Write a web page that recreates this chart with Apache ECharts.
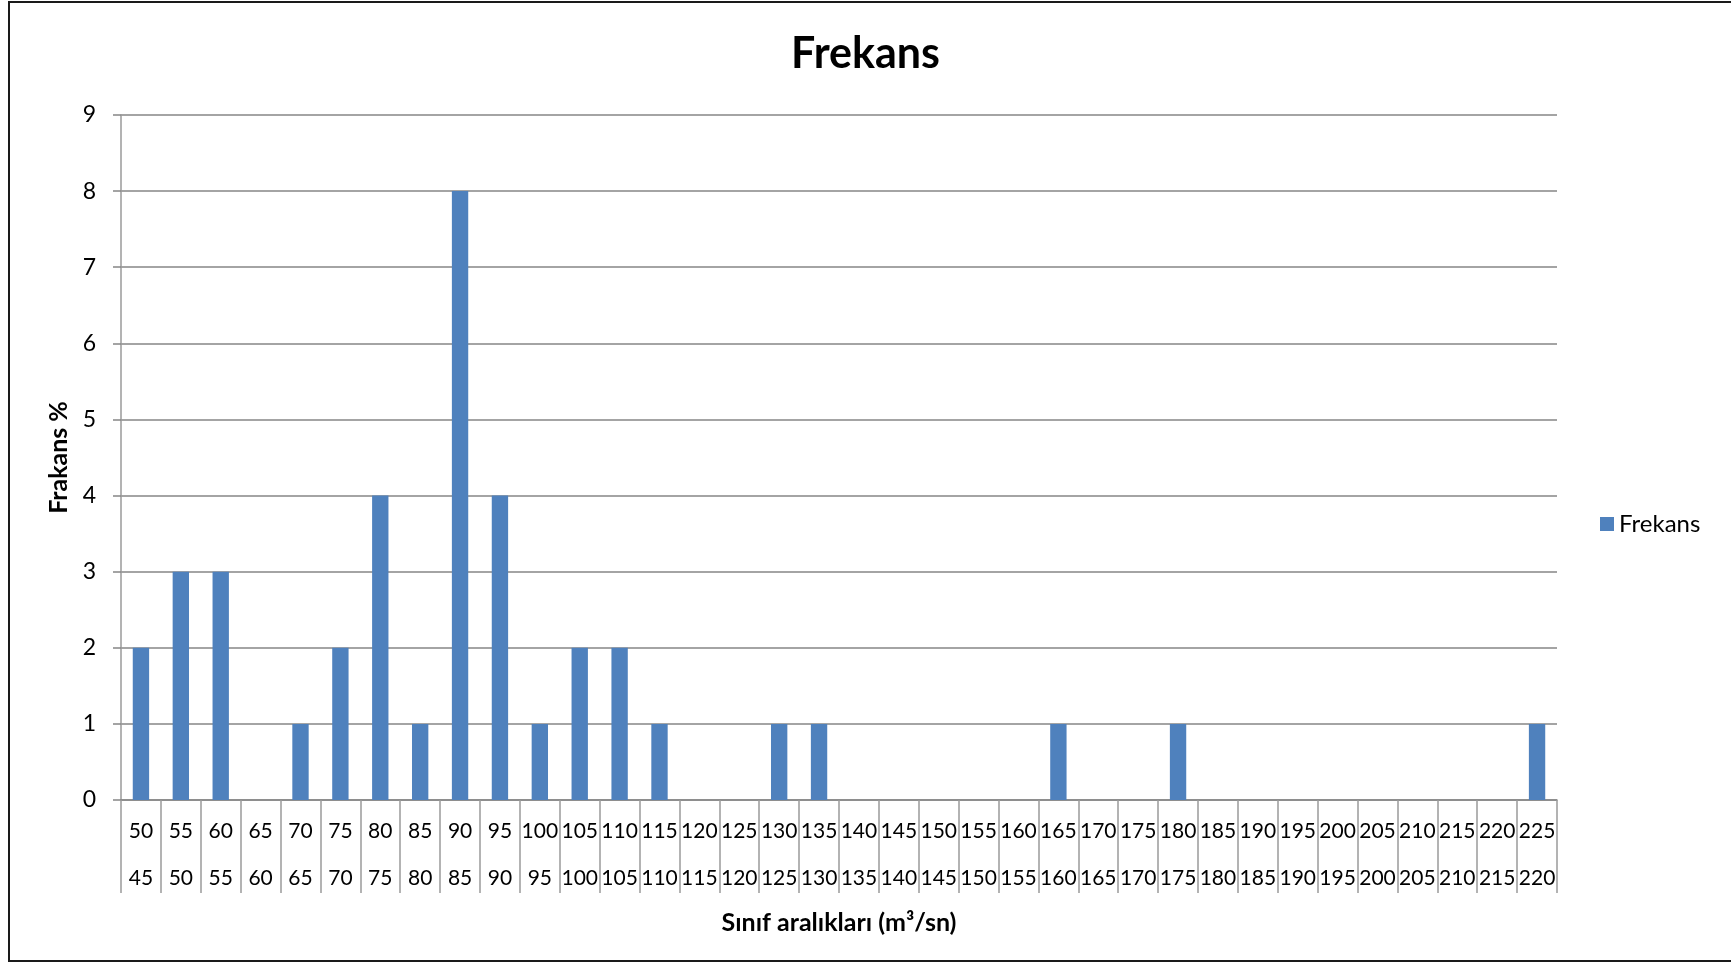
<!DOCTYPE html>
<html>
<head>
<meta charset="utf-8">
<script src="https://cdn.jsdelivr.net/npm/echarts@6/dist/echarts.min.js"></script>
<style>
  html, body { margin: 0; padding: 0; background: #fff; }
  #chart { width: 1731px; height: 963px; }
</style>
</head>
<body>
<div id="chart"></div>
<script>
// Class intervals (lower / upper bounds) and frequency per class
const lowerBounds = [45, 50, 55, 60, 65, 70, 75, 80, 85, 90, 95, 100, 105, 110, 115, 120, 125, 130,
                     135, 140, 145, 150, 155, 160, 165, 170, 175, 180, 185, 190, 195, 200, 205, 210, 215, 220];
const upperBounds = [50, 55, 60, 65, 70, 75, 80, 85, 90, 95, 100, 105, 110, 115, 120, 125, 130, 135,
                     140, 145, 150, 155, 160, 165, 170, 175, 180, 185, 190, 195, 200, 205, 210, 215, 220, 225];
const frekans = [2, 3, 3, 0, 1, 2, 4, 1, 8, 4, 1, 2, 2, 1, 0, 0, 1, 1,
                 0, 0, 0, 0, 0, 1, 0, 0, 1, 0, 0, 0, 0, 0, 0, 0, 0, 1];
const yTicks = [0, 1, 2, 3, 4, 5, 6, 7, 8, 9];

// two-row category label: upper bound on top, lower bound below
const categories = lowerBounds.map((lo, i) => upperBounds[i] + '\n' + lo);

const FONT = 'Lato, "Open Sans", sans-serif';
const chart = echarts.init(document.getElementById('chart'));

chart.setOption({
  backgroundColor: '#ffffff',
  animation: false,
  textStyle: { fontFamily: FONT },
  graphic: [{
    type: 'rect',
    shape: { x: 9, y: 2, width: 1760, height: 959 },
    style: { fill: 'none', stroke: '#1a1a1a', lineWidth: 2 },
    silent: true
  }],
  title: {
    text: 'Frekans',
    left: 'center',
    top: 28,
    textStyle: { fontFamily: FONT, fontSize: 43, fontWeight: 'bold', color: '#000' }
  },
  legend: {
    orient: 'vertical',
    left: 1595,
    top: 507,
    itemWidth: 14,
    itemHeight: 14,
    itemGap: 8,
    icon: 'rect',
    textStyle: { fontFamily: FONT, fontSize: 24, color: '#000' },
    data: ['Frekans']
  },
  grid: { left: 121, right: 174, top: 115, bottom: 163 },
  xAxis: {
    type: 'category',
    data: categories,
    boundaryGap: true,
    name: 'Sınıf aralıkları (m³/sn)',
    nameLocation: 'middle',
    nameGap: 110,
    nameTextStyle: { fontFamily: FONT, fontSize: 25, fontWeight: 'bold', color: '#000' },
    axisLine: { lineStyle: { color: '#868686', width: 1.5 } },
    axisTick: { show: true, interval: 0, length: 93, lineStyle: { color: '#9a9a9a', width: 1.5 } },
    axisLabel: {
      interval: 0,
      margin: 8,
      fontFamily: FONT,
      fontSize: 21,
      lineHeight: 47,
      color: '#000'
    }
  },
  yAxis: {
    type: 'value',
    min: 0,
    max: 9,
    interval: 1,
    name: 'Frakans %',
    nameLocation: 'middle',
    nameGap: 48,
    nameTextStyle: { fontFamily: FONT, fontSize: 25, fontWeight: 'bold', color: '#000' },
    axisLine: { show: true, lineStyle: { color: '#9a9a9a', width: 1.5 } },
    axisTick: { show: true, length: 8, lineStyle: { color: '#868686', width: 1.5 } },
    axisLabel: {
      margin: 25,
      fontFamily: FONT,
      fontSize: 23,
      color: '#000',
      formatter: v => (yTicks.includes(v) ? String(v) : '')
    },
    splitLine: { show: true, lineStyle: { color: '#868686', width: 1.5 } }
  },
  series: [{
    name: 'Frekans',
    type: 'bar',
    data: frekans,
    barCategoryGap: '59%',
    itemStyle: { color: '#4F81BD' }
  }]
});
</script>
</body>
</html>
